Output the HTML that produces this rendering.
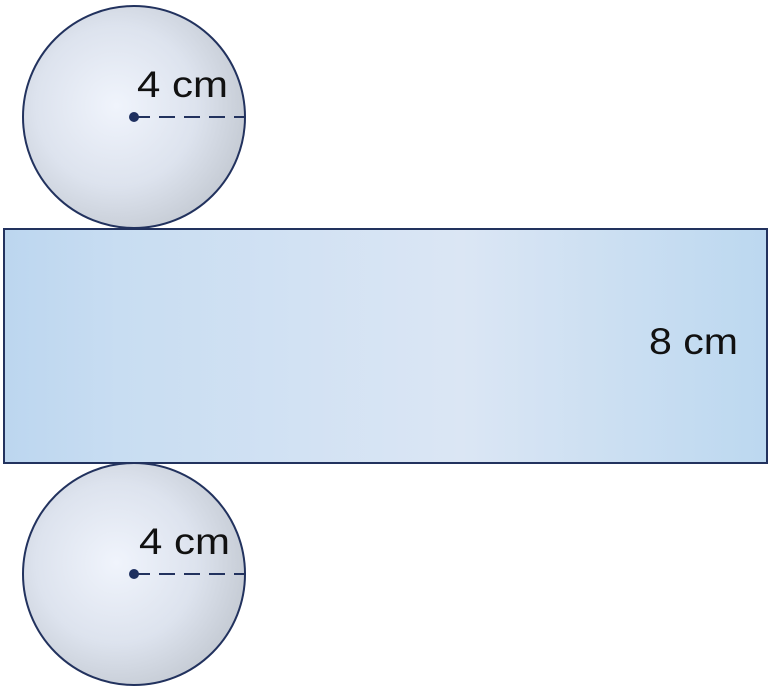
<!DOCTYPE html>
<html><head><meta charset="utf-8"><style>
html,body{margin:0;padding:0;background:#fff;}
svg{display:block;}
text{font-family:"Liberation Sans",sans-serif;fill:#111;}
</style></head><body>
<svg width="771" height="690" viewBox="0 0 771 690">
<defs>
<radialGradient id="cg" cx="0.42" cy="0.45" r="0.6">
<stop offset="0" stop-color="#f0f4fc"/>
<stop offset="0.6" stop-color="#dde3ee"/>
<stop offset="1" stop-color="#c5cbd4"/>
</radialGradient>
<linearGradient id="rg" x1="0" y1="0" x2="1" y2="0">
<stop offset="0" stop-color="#bcd6ef"/>
<stop offset="0.15" stop-color="#c8ddf2"/>
<stop offset="0.6" stop-color="#dbe6f4"/>
<stop offset="1" stop-color="#bcd8f0"/>
</linearGradient>
</defs>
<g>
<circle cx="134" cy="117" r="111" fill="url(#cg)" stroke="#22325e" stroke-width="2"/>
<circle cx="134" cy="117" r="5" fill="#1e3060"/>
<line x1="134" y1="117" x2="245" y2="117" stroke="#22325e" stroke-width="2" stroke-dasharray="16,9"/>
<text x="137" y="97" font-size="37" textLength="91" lengthAdjust="spacingAndGlyphs">4 cm</text>
</g>
<rect x="4" y="229" width="763" height="234" fill="url(#rg)" stroke="#22325e" stroke-width="2"/>
<text x="649" y="354" font-size="37" textLength="89" lengthAdjust="spacingAndGlyphs">8 cm</text>
<g>
<circle cx="134" cy="574" r="111" fill="url(#cg)" stroke="#22325e" stroke-width="2"/>
<circle cx="134" cy="574" r="5" fill="#1e3060"/>
<line x1="134" y1="574" x2="245" y2="574" stroke="#22325e" stroke-width="2" stroke-dasharray="16,9"/>
<text x="139" y="554" font-size="37" textLength="91" lengthAdjust="spacingAndGlyphs">4 cm</text>
</g>
</svg>
</body></html>
